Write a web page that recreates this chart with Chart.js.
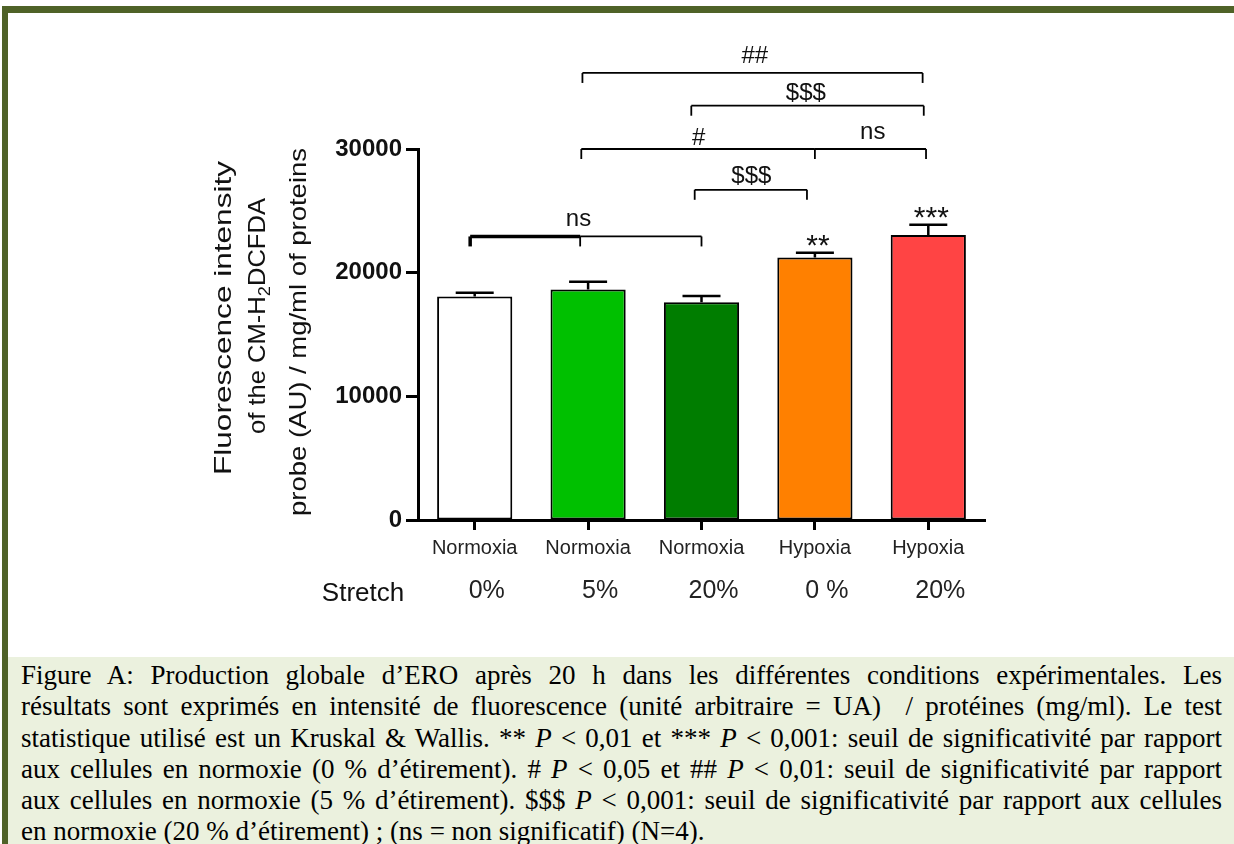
<!DOCTYPE html>
<html>
<head>
<meta charset="utf-8">
<title>Production globale d'ERO</title>
<script src="https://cdn.jsdelivr.net/npm/chart.js@4.4.0/dist/chart.umd.min.js"></script>
<style>
  body { margin: 0; width: 1234px; height: 844px; background: #fff; position: relative; overflow: hidden; }
  #chart { position: absolute; left: 0; top: 0; }
  .frame { position: absolute; background: #4f6228; }
  #frame-top { left: 2px; top: 6px; width: 1232px; height: 7px; }
  #frame-left { left: 2px; top: 6px; width: 6px; height: 838px; }
  #caption {
    position: absolute; left: 8px; top: 657px; width: 1226px; height: 187px;
    box-sizing: border-box; padding: 3px 12px 0 13px;
    background: #ebf1de; color: #000;
    font-family: "Liberation Serif", serif; font-size: 27px; line-height: 31.3px;
  }
  #caption .j { text-align: justify; text-align-last: justify; }
</style>
</head>
<body>
<canvas id="chart" width="1234" height="657"></canvas>
<div class="frame" id="frame-top"></div>
<div class="frame" id="frame-left"></div>
<div id="caption">
  <div class="j">Figure A: Production globale d’ERO après 20 h dans les différentes conditions expérimentales. Les</div>
  <div class="j">résultats sont exprimés en intensité de fluorescence (unité arbitraire = UA) &nbsp;/ protéines (mg/ml). Le test</div>
  <div class="j">statistique utilisé est un Kruskal &amp; Wallis. ** <i>P</i> &lt; 0,01 et *** <i>P</i> &lt; 0,001: seuil de significativité par rapport</div>
  <div class="j">aux cellules en normoxie (0 % d’étirement). # <i>P</i> &lt; 0,05 et ## <i>P</i> &lt; 0,01: seuil de significativité par rapport</div>
  <div class="j">aux cellules en normoxie (5 % d’étirement). $$$ <i>P</i> &lt; 0,001: seuil de significativité par rapport aux cellules</div>
  <div>en normoxie (20 % d’étirement) ; (ns = non significatif) (N=4).</div>
</div>
<script>
const groups        = ["Normoxia", "Normoxia", "Normoxia", "Hypoxia", "Hypoxia"];
const stretchLabels = ["0%", "5%", "20%", "0 %", "20%"];
const means         = [18070, 18630, 17600, 21230, 23040];
const sems          = [300, 640, 520, 380, 830];
const yTickValues   = [0, 10000, 20000, 30000];
const starLabels    = ["", "", "", "**", "***"];

// significance brackets: legs in category units, levels in data units
const bracketLegs   = [[-0.04, 0.93, 2], [1.94, 2.93], [0.94, 3, 3.98], [1.91, 3.96], [0.95, 3.95]];
const bracketLevels = [22930, 26700, 30000, 33500, 36150];
const bracketTexts  = [["ns"], ["$$$"], ["#", "ns"], ["$$$"], ["##"]];
const bracketTextX  = [[0.915], [2.44], [1.975, 3.51], [2.92], [2.47]];
const bracketTextY  = [[23740], [27270], [30350, 30810], [33990], [36960]];

const barColors = ["#ffffff", "#00c000", "#007d00", "#ff8000", "#ff4444"];
const FONT = '"Liberation Sans", Arial, sans-serif';

// --- error bars, brackets, stars, y title ---
const annotations = {
  id: "annotations",
  afterDatasetsDraw(chart) {
    const { ctx, scales: { x, y } } = chart;
    const meta = chart.getDatasetMeta(0);
    ctx.save();
    ctx.strokeStyle = "#000";
    ctx.fillStyle = "#111";

    // error bars (upper only) + stars
    meta.data.forEach((bar, i) => {
      const top = y.getPixelForValue(means[i] + sems[i]);
      ctx.lineWidth = 2.5;
      ctx.beginPath();
      ctx.moveTo(bar.x, bar.y);
      ctx.lineTo(bar.x, top);
      ctx.moveTo(bar.x - 19, top);
      ctx.lineTo(bar.x + 19, top);
      ctx.stroke();
      if (starLabels[i]) {
        ctx.font = "30px " + FONT;
        ctx.textAlign = "center";
        ctx.textBaseline = "alphabetic";
        ctx.fillText(starLabels[i], bar.x + 3, top + 2);
      }
    });

    // brackets
    bracketLegs.forEach((legs, b) => {
      const yy = y.getPixelForValue(bracketLevels[b]);
      const xs = legs.map(v => x.getPixelForValue(v));
      for (let s = 0; s < xs.length - 1; s++) {
        ctx.lineWidth = (b === 0 && s === 0) ? 3.5 : 1.8;
        ctx.beginPath();
        ctx.moveTo(xs[s], yy);
        ctx.lineTo(xs[s + 1], yy);
        ctx.stroke();
      }
      xs.forEach((px, k) => {
        ctx.lineWidth = (b === 0 && k === 0) ? 3.5 : 1.8;
        ctx.beginPath();
        ctx.moveTo(px, yy);
        ctx.lineTo(px, yy + 10);
        ctx.stroke();
      });
      ctx.font = "24px " + FONT;
      ctx.textAlign = "center";
      ctx.textBaseline = "alphabetic";
      bracketTexts[b].forEach((t, k) => {
        ctx.fillText(t, x.getPixelForValue(bracketTextX[b][k]), y.getPixelForValue(bracketTextY[b][k]));
      });
    });

    // y axis title: three rotated lines, each stretched to its length in the original
    const big = "24px " + FONT, small = "17px " + FONT;
    const drawRotated = (cx, cy, len, parts) => {
      ctx.save();
      ctx.translate(cx, cy);
      ctx.rotate(-Math.PI / 2);
      ctx.textBaseline = "middle";
      ctx.textAlign = "left";
      let total = 0;
      parts.forEach(p => { ctx.font = p.sub ? small : big; total += ctx.measureText(p.t).width; });
      ctx.scale(len / total, 1);
      let pos = -total / 2;
      parts.forEach(p => {
        ctx.font = p.sub ? small : big;
        ctx.fillText(p.t, pos, p.sub ? 7 : 0);
        pos += ctx.measureText(p.t).width;
      });
      ctx.restore();
    };
    drawRotated(224, 318, 314, [{ t: "Fluorescence intensity" }]);
    drawRotated(258.5, 316, 236, [{ t: "of the CM-H" }, { t: "2", sub: true }, { t: "DCFDA" }]);
    drawRotated(299, 332, 368, [{ t: "probe (AU) / mg/ml of proteins" }]);

    // row label for the stretch line
    ctx.font = "26px " + FONT;
    ctx.textAlign = "center";
    ctx.textBaseline = "alphabetic";
    ctx.fillText("Stretch", 363, 601);
    ctx.restore();
  }
};

new Chart(document.getElementById("chart"), {
  type: "bar",
  data: {
    labels: groups,
    datasets: [{
      data: means,
      backgroundColor: barColors,
      borderColor: "#000",
      borderWidth: 2,
      borderSkipped: false,
      barPercentage: 0.663,
      categoryPercentage: 1
    }]
  },
  options: {
    responsive: false,
    animation: false,
    layout: { padding: { left: 0, top: 149, right: 249, bottom: 42 } },
    plugins: { legend: { display: false }, tooltip: { enabled: false } },
    scales: {
      x: {
        afterFit: s => { s.height = 45; },
        grid: { display: true, drawOnChartArea: false, offset: false, tickLength: 10, tickWidth: 3, color: "#000" },
        border: { display: true, width: 3, color: "#000" },
        ticks: { color: "#222", font: { family: FONT, size: 20 }, padding: 6, maxRotation: 0 }
      },
      x2: {
        type: "category",
        labels: stretchLabels,
        position: "bottom",
        offset: true,
        afterFit: s => { s.height = 50; },
        grid: { display: false, drawTicks: false },
        border: { display: false },
        ticks: { color: "#222", font: { family: FONT, size: 25 }, padding: 11, labelOffset: 12, maxRotation: 0 }
      },
      y: {
        min: 0,
        max: 30000,
        afterFit: s => { s.width = 418; },
        afterBuildTicks: s => { s.ticks = yTickValues.map(v => ({ value: v })); },
        grid: { display: true, drawOnChartArea: false, tickLength: 12, tickWidth: 3, color: "#000" },
        border: { display: true, width: 3, color: "#000" },
        ticks: {
          color: "#111", font: { family: FONT, size: 24, weight: "bold" }, padding: 4,
          callback: v => String(v)
        }
      }
    }
  },
  plugins: [annotations]
});
</script>
</body>
</html>
